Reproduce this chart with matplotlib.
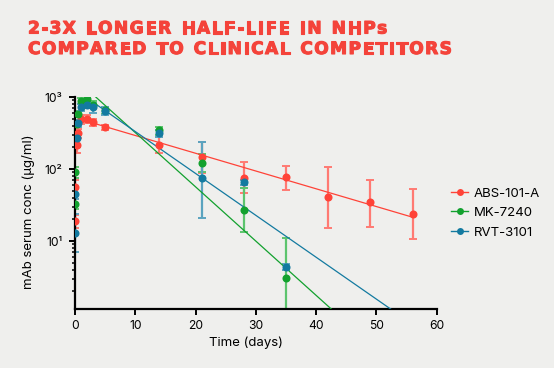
import numpy as np
import matplotlib
matplotlib.use("Agg")
import matplotlib.pyplot as plt
from matplotlib.lines import Line2D
import matplotlib.patheffects as pe

# ---------------- data ----------------
series_names = ["ABS-101-A", "MK-7240", "RVT-3101"]

red_t = [0.02, 0.08, 0.25, 0.5, 1, 2, 3, 5, 14, 21, 28, 35, 42, 49, 56]
red_v = [19, 57, 215, 317, 490, 500, 450, 380, 215, 145, 76, 78, 41, 34.5, 24]
red_lo = [15, 45, 165, 270, 420, 440, 400, 350, 166, 87, 46, 51, 15.3, 15.8, 10.6]
red_hi = [23, 70, 260, 360, 560, 560, 500, 410, 275, 240, 126, 111, 105, 70, 52.7]

green_t = [0.02, 0.08, 0.25, 0.5, 1, 2, 3, 5, 14, 21, 28, 35]
green_v = [33, 90, 420, 575, 880, 930, 780, 650, 348, 122, 27, 3.1]
green_lo = [28, 75, 380, 520, 800, 850, 700, 580, 296, 90, 13.4, 0.5]
green_hi = [38, 105, 470, 640, 960, 1000, 880, 720, 380, 160, 54, 10.9]

blue_t = [0.02, 0.08, 0.25, 0.5, 1, 2, 3, 5, 14, 21, 28, 35]
blue_v = [13, 45, 270, 430, 720, 780, 720, 640, 313, 74, 65, 4.4]
blue_lo = [7, 38, 200, 380, 640, 700, 600, 560, 280, 21, 60, 4.0]
blue_hi = [24, 55, 330, 480, 800, 860, 820, 720, 350, 240, 70, 4.8]

# fitted terminal-phase lines (start/end)
red_fit_t = [1, 56]
red_fit_v = [487, 21.4]
green_fit_t = [3, 42.7]
green_fit_v = [1080, 1.1]
blue_fit_t = [3, 52.6]
blue_fit_v = [846, 1.1]

x_ticks = [0, 10, 20, 30, 40, 50, 60]
y_ticks = [10, 100, 1000]
y_ticklabels = ["10\u00b9", "10\u00b2", "10\u00b3"]

title_lines = ["2-3X LONGER HALF-LIFE IN NHPs", "COMPARED TO CLINICAL COMPETITORS"]

# ---------------- style ----------------
BG = "#efefed"
TITLE_C = "#f4433a"
cols = ["#ff4338", "#12a12e", "#137aa0"]
ecols = ["#ff7a73", "#5cc46d", "#5aa3bf"]
FONT = "Inter"

W, H = 554, 368
fig = plt.figure(figsize=(W / 100, H / 100), dpi=100, facecolor=BG)
ax = fig.add_axes([75 / W, 1 - 309 / H, (436.7 - 75) / W, (309 - 97) / H])
ax.set_facecolor(BG)

data = [
    (red_t, red_v, red_lo, red_hi, red_fit_t, red_fit_v),
    (green_t, green_v, green_lo, green_hi, green_fit_t, green_fit_v),
    (blue_t, blue_v, blue_lo, blue_hi, blue_fit_t, blue_fit_v),
]

handles = []
for i, (t, v, lo, hi, ft, fv) in enumerate(data):
    t = np.array(t); v = np.array(v); lo = np.array(lo); hi = np.array(hi)
    ax.errorbar(t, v, yerr=[v - lo, hi - v], fmt="none", ecolor=ecols[i],
                elinewidth=1.6, capsize=3.2, capthick=1.4, zorder=2 + i * 0.1)
    ax.plot(ft, fv, color=cols[i], lw=0.9, zorder=3, solid_capstyle="butt")
    ax.plot(t, v, "o", color=cols[i], ms=5.8, mec="none", zorder=4 + i * 0.1)
    handles.append(Line2D([0], [0], color=cols[i], lw=1.0, marker="o", ms=5, mec="none"))

ax.set_yscale("log")
ax.set_xlim(0, 60)
ax.set_ylim(1.137, 1000)
ax.set_xticks(x_ticks)
ax.set_xticklabels([str(x) for x in x_ticks], fontsize=8.7, family=FONT)
ax.set_yticks(y_ticks)
ax.set_yticklabels(y_ticklabels, fontsize=8.7, family=FONT)
ax.yaxis.set_minor_locator(matplotlib.ticker.LogLocator(base=10, subs=np.arange(2, 10)))
ax.yaxis.set_minor_formatter(matplotlib.ticker.NullFormatter())

for s in ["top", "right"]:
    ax.spines[s].set_visible(False)
for s in ["left", "bottom"]:
    ax.spines[s].set_linewidth(1.6)
    ax.spines[s].set_color("black")
ax.tick_params(axis="both", which="major", length=4, width=1.4, color="black", pad=4)
ax.tick_params(axis="y", which="major", pad=5)
ax.tick_params(axis="y", which="minor", length=2.5, width=1.1)

fig.text(246 / W, 1 - 343 / H, "Time (days)", ha="center", va="center",
         fontsize=9.5, family=FONT)
fig.text(29 / W, 1 - 212 / H, "mAb serum conc (\u00b5g/ml)", ha="center", va="center",
         rotation=90, fontsize=9.5, family=FONT)

leg = fig.legend(handles, series_names, loc="upper left",
                 bbox_to_anchor=(446 / W, 1 - 182 / H), frameon=False,
                 prop={"family": FONT, "size": 9.5}, handlelength=1.25,
                 handletextpad=0.45, labelspacing=0.55, borderaxespad=0)

# ---------------- title with letter spacing ----------------
renderer = fig.canvas.get_renderer()
from matplotlib.font_manager import FontProperties
tprop = FontProperties(family="DejaVu Sans", weight="bold", size=12.3)

def wid(s):
    w, h, d = renderer.get_text_width_height_descent(s, tprop, ismath=False)
    return w

target_w = 452 - 28
line2 = title_lines[1]
nat = sum(wid(c) if c != " " else wid("n") * 0.6 for c in line2)
spacing = (target_w - nat) / (len(line2) - 1)

for li, (line, ypix) in enumerate(zip(title_lines, [33.5, 54])):
    x = 28.0
    for c in line:
        cw = wid(c) if c != " " else wid("n") * 0.6
        if c != " ":
            fig.text(x / W, 1 - ypix / H, c, fontproperties=tprop, color=TITLE_C,
                     ha="left", va="baseline",
                     path_effects=[pe.Stroke(linewidth=0.8, foreground=TITLE_C), pe.Normal()])
        x += cw + spacing

fig.savefig("out.png", dpi=100, facecolor=BG)
